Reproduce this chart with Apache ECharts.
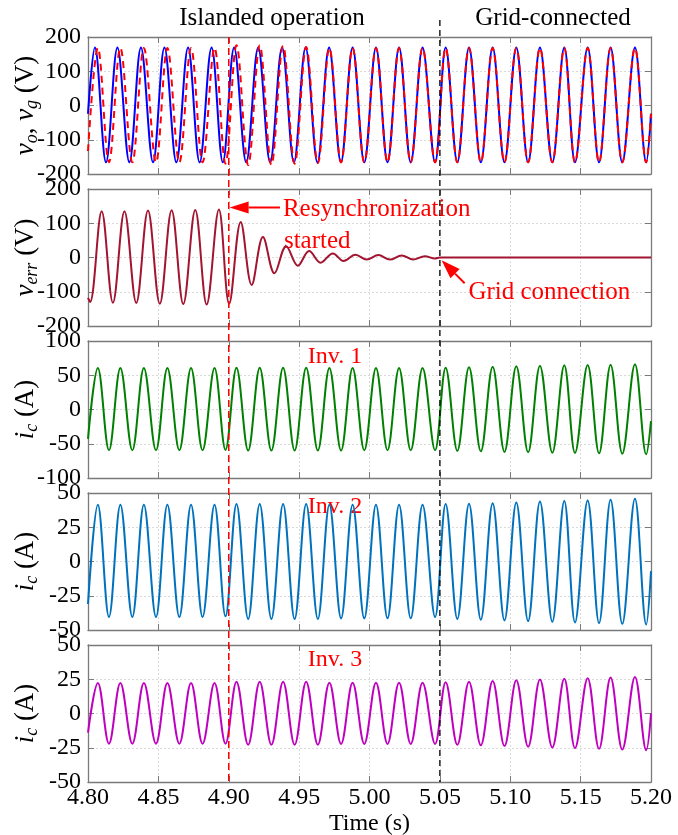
<!DOCTYPE html>
<html>
<head>
<meta charset="utf-8">
<script src="https://cdn.jsdelivr.net/npm/echarts@6/dist/echarts.min.js"></script>
<style>html,body{margin:0;padding:0;background:#fff}#c{width:678px;height:835px}</style>
</head>
<body>
<div id="c"></div>
<script>
// ---------------- data ----------------
const xMin = 4.80, xMax = 5.20, xStep = 0.05;
const yMins = [-200, -200, -100, -50, -50];
const yMaxs = [200, 200, 100, 50, 50];
const ySteps = [100, 100, 50, 25, 25];

// times of the extrema (start, peak/trough pairs, end) for grid-synchronous waveforms
const tGrid = [4.8000,
  4.8070, 4.8149, 4.8230, 4.8315, 4.8397, 4.8483, 4.8564, 4.8649, 4.8732, 4.8814,
  4.8899, 4.8977, 4.9055, 4.9138, 4.9220, 4.9303, 4.9386, 4.9468, 4.9550, 4.9633,
  4.9715, 4.9798, 4.9880, 4.9963, 5.0046, 5.0128, 5.0210, 5.0293, 5.0377, 5.0466,
  5.0541, 5.0624, 5.0707, 5.0791, 5.0875, 5.0959, 5.1043, 5.1127, 5.1211, 5.1299,
  5.1384, 5.1460, 5.1550, 5.1631, 5.1713, 5.1796, 5.1886, 5.1966,
  5.2000];
// times of the extrema of the inverter output voltage v_o
const tVo = [4.8000,
  4.8049, 4.8128, 4.8209, 4.8294, 4.8376, 4.8462, 4.8543, 4.8628, 4.8711, 4.8793,
  4.8878, 4.8958, 4.9038, 4.9124, 4.9209, 4.9294, 4.9379, 4.9463, 4.9546, 4.9630,
  4.9713, 4.9797, 4.9880, 4.9963, 5.0046, 5.0128, 5.0210, 5.0293, 5.0377, 5.0466,
  5.0541, 5.0624, 5.0707, 5.0791, 5.0875, 5.0959, 5.1043, 5.1127, 5.1211, 5.1299,
  5.1384, 5.1460, 5.1550, 5.1631, 5.1713, 5.1796, 5.1886, 5.1966,
  5.2000];
const vo = [-24,
  169, -166, 169, -166, 169, -166, 169, -166, 169, -166,
  169, -166, 169, -166, 169, -166, 169, -166, 169, -166,
  169, -166, 169, -166, 169, -166, 169, -166, 169, -166,
  169, -166, 169, -166, 169, -166, 169, -166, 169, -166,
  169, -166, 169, -166, 169, -166, 169, -166,
  -24];
const vg = [-133,
  168, -166, 168, -166, 168, -166, 168, -166, 168, -166,
  168, -170, 176, -174, 176, -173, 174, -170, 171, -168,
  168, -166, 168, -166, 168, -166, 168, -166, 168, -166,
  168, -166, 168, -166, 168, -166, 168, -166, 168, -166,
  168, -166, 168, -166, 168, -166, 168, -166,
  -24];
const tErr = [4.8000, 4.8015, 4.8097, 4.8177, 4.8259, 4.8343, 4.8426, 4.8510, 4.8594,
  4.8677, 4.8762, 4.8843, 4.8930, 4.9003, 4.9085, 4.9163, 4.9243, 4.9325, 4.9408,
  4.9491, 4.9571, 4.9652, 4.9740, 4.9815, 4.9900, 4.9980, 5.0063, 5.0145, 5.0228,
  5.0310, 5.0393, 5.0465, 5.0500, 5.2000];
const vErr = [-118, -130, 135, -132, 135, -133, 137, -135, 138,
  -136, 139, -137, 140, -135, 104, -80, 60, -46, 33,
  -24, 19, -15, 12, -10, 8, -6, 7, -6, 6,
  -6, 4, -3, 0, 0];
const iInv1 = [-43,
  60.5, -59.5, 60.5, -59.5, 60.5, -59.5, 60.5, -59.5, 60.5, -59.5,
  60.5, -59, 61, -60, 61, -60, 61, -60, 61, -60,
  60.5, -60, 60.5, -59.5, 60.5, -59.5, 60.5, -59.5, 60.5, -59.5,
  61, -60.5, 61.5, -61, 62.5, -62, 63, -62.5, 64, -63,
  64.5, -63.5, 65, -64, 65.5, -64.5, 66, -65.5,
  -17];
const iInv2 = [-31,
  41.5, -40.5, 41.5, -40.5, 41.5, -40.5, 41.5, -40.5, 41.5, -40.5,
  41.5, -40, 42, -42, 42, -42, 42, -42, 42, -42,
  41.5, -41.5, 41.5, -41.5, 41.5, -41.5, 41.5, -41.5, 41.5, -40.5,
  42, -42, 42.2, -42.5, 42.5, -43, 43, -43.5, 43.8, -44,
  44.2, -44.5, 44.6, -45, 45, -45.5, 45.8, -46,
  -7];
const iInv3 = [-14,
  22.3, -22, 22.3, -22, 22.3, -22, 22.3, -22, 22.3, -22,
  22.3, -22, 23.2, -22.8, 23.2, -22.8, 23.2, -22.8, 23.2, -22.8,
  22.5, -22.2, 22.5, -22.2, 22.5, -22.2, 22.5, -22.2, 22.5, -22.2,
  22.8, -22.8, 23.2, -23.2, 23.8, -23.8, 24.2, -24.3, 24.8, -24.8,
  25.3, -25.3, 25.8, -25.8, 26.2, -26.3, 26.7, -26.8,
  0];
const tResync = 4.90, tConnect = 5.05;
const invLabels = ['Inv. 1', 'Inv. 2', 'Inv. 3'];

// ---------------- chart ----------------
const FONT = "'Liberation Serif','Times New Roman',serif";
const GRAY = '#7a7a7a';
const tops = [37, 189, 341, 493, 645];
const H = 137;
const zip = (t, v) => t.map((x, i) => [x, v[i]]);

const yNames = [
  '{i|v}{s|o}{n|, }{i|v}{s|g}{n| (V)}',
  '{i|v}{s|err}{n| (V)}',
  '{i|i}{s|c}{n| (A)}',
  '{i|i}{s|c}{n| (A)}',
  '{i|i}{s|c}{n| (A)}'
];
const rich = {
  i: {fontFamily: FONT, fontStyle: 'italic', fontSize: 27, color: '#000'},
  s: {fontFamily: FONT, fontStyle: 'italic', fontSize: 18, color: '#000', padding: [13, 0, 0, 0]},
  n: {fontFamily: FONT, fontSize: 27, color: '#000'}
};

const grids = [], xAxes = [], yAxes = [];
for (let p = 0; p < 5; p++) {
  grids.push({left: 88, right: 27, top: tops[p], height: H, containLabel: false, outerBoundsMode: 'none'});
  const last = p === 4;
  xAxes.push({
    type: 'value', gridIndex: p, min: xMin, max: xMax, interval: xStep, position: 'bottom',
    axisLine: {show: true, onZero: false, lineStyle: {color: GRAY, width: 1.3}},
    axisTick: {show: true, inside: true, length: 6, lineStyle: {color: GRAY}},
    axisLabel: {show: last, margin: 4, color: '#000', fontFamily: FONT, fontSize: 24,
      formatter: v => v.toFixed(2), showMinLabel: true, showMaxLabel: true},
    splitLine: {show: true, lineStyle: {color: '#d9d9d9', type: [2, 2], width: 1}},
    name: last ? 'Time (s)' : '', nameLocation: 'middle', nameGap: 30, nameMoveOverlap: false,
    nameTextStyle: {fontFamily: FONT, fontSize: 24, color: '#000'}
  });
  xAxes.push({
    type: 'value', gridIndex: p, min: xMin, max: xMax, interval: xStep, position: 'top',
    axisLine: {show: true, onZero: false, lineStyle: {color: GRAY, width: 1.3}},
    axisTick: {show: true, inside: true, length: 6, lineStyle: {color: GRAY}},
    axisLabel: {show: false}, splitLine: {show: false}
  });
  yAxes.push({
    type: 'value', gridIndex: p, min: yMins[p], max: yMaxs[p], interval: ySteps[p], position: 'left',
    axisLine: {show: true, onZero: false, lineStyle: {color: GRAY, width: 1.3}},
    axisTick: {show: true, inside: true, length: 6, lineStyle: {color: GRAY}},
    axisLabel: {color: '#000', fontFamily: FONT, fontSize: 24, margin: 7},
    splitLine: {show: true, lineStyle: {color: '#d9d9d9', type: [2, 2], width: 1}},
    name: yNames[p], nameLocation: 'middle', nameRotate: 90, nameGap: 47, nameMoveOverlap: false,
    nameTextStyle: {rich: rich}
  });
  yAxes.push({
    type: 'value', gridIndex: p, min: yMins[p], max: yMaxs[p], interval: ySteps[p], position: 'right',
    axisLine: {show: true, onZero: false, lineStyle: {color: GRAY, width: 1.3}},
    axisTick: {show: true, inside: true, length: 6, lineStyle: {color: GRAY}},
    axisLabel: {show: false}, splitLine: {show: false}
  });
}

const SM = 0.3634;
function line(p, data, color, extra) {
  return Object.assign({
    type: 'line', xAxisIndex: 2 * p, yAxisIndex: 2 * p, data: data, smooth: SM,
    showSymbol: false, symbol: 'none', lineStyle: {color: color, width: 2}, itemStyle: {color: color},
    silent: true, z: 3
  }, extra || {});
}
const series = [
  line(0, zip(tVo, vo), '#0000ff'),
  line(0, zip(tGrid, vg), '#ff0000', {lineStyle: {color: '#ff0000', width: 2, type: [7, 5]}, z: 4}),
  line(1, zip(tErr, vErr), '#a2142f'),
  line(2, zip(tGrid, iInv1), '#008000'),
  line(3, zip(tGrid, iInv2), '#0072bd'),
  line(4, zip(tGrid, iInv3), '#bf00bf')
];

const chart = echarts.init(document.getElementById('c'), null, {renderer: 'canvas'});
chart.setOption({
  animation: false, backgroundColor: '#fff',
  grid: grids, xAxis: xAxes, yAxis: yAxes, series: series
});

// ---------------- annotations (anchored through the axes) ----------------
const P = (si, t, v) => chart.convertToPixel({seriesIndex: si}, [t, v]);
const RED = '#ff0000';
const g = [];
const topY = P(0, xMin, yMaxs[0])[1];
const botY = P(5, xMin, yMins[4])[1];
const xr = P(0, tResync, 0)[0];
const xc = P(0, tConnect, 0)[0];
g.push({type: 'line', z: 50, shape: {x1: xr, y1: topY, x2: xr, y2: botY},
  style: {stroke: RED, lineWidth: 1.5, lineDash: [7, 4]}});
g.push({type: 'line', z: 50, shape: {x1: xc, y1: topY - 17, x2: xc, y2: botY},
  style: {stroke: '#000', lineWidth: 1.3, lineDash: [6, 4]}});

function txt(x, y, s, color, size, align) {
  return {type: 'text', z: 1, style: {text: s, x: x, y: y, fill: color, fontSize: size, fontFamily: FONT,
    align: align, verticalAlign: 'middle', textAlign: align, textVerticalAlign: 'middle'}};
}
g.push(txt(P(0, 4.9307, 0)[0], topY - 19, 'Islanded operation', '#000', 25, 'center'));
g.push(txt(P(0, 5.1304, 0)[0], topY - 19, 'Grid-connected', '#000', 25, 'center'));

function arrow(tail, tip, L, W) {
  const dx = tip[0] - tail[0], dy = tip[1] - tail[1];
  const d = Math.hypot(dx, dy), ux = dx / d, uy = dy / d;
  const bx = tip[0] - ux * L, by = tip[1] - uy * L;
  g.push({type: 'line', z: 60, shape: {x1: tail[0], y1: tail[1], x2: bx, y2: by},
    style: {stroke: RED, lineWidth: 2}});
  g.push({type: 'polygon', z: 60, shape: {points: [tip, [bx - uy * W, by + ux * W], [bx + uy * W, by - ux * W]]},
    style: {fill: RED}});
}
arrow(P(2, 4.9364, 146), P(2, 4.9006, 146), 19, 6);
arrow(P(2, 5.0676, -75), P(2, 5.0512, -8), 19, 6.5);
const r1 = P(2, 4.9385, 139), r2 = P(2, 4.9392, 47), r3 = P(2, 5.0703, -101);
g.push(txt(r1[0], r1[1], 'Resynchronization', RED, 25, 'left'));
g.push(txt(r2[0], r2[1], 'started', RED, 25, 'left'));
g.push(txt(r3[0], r3[1], 'Grid connection', RED, 25, 'left'));
const invY = [77, 40, 39];
for (let k = 0; k < 3; k++) {
  const q = P(3 + k, 4.9755, invY[k]);
  g.push(txt(q[0], q[1], invLabels[k], RED, 24, 'center'));
}
chart.setOption({graphic: {elements: g}});
</script>
</body>
</html>
